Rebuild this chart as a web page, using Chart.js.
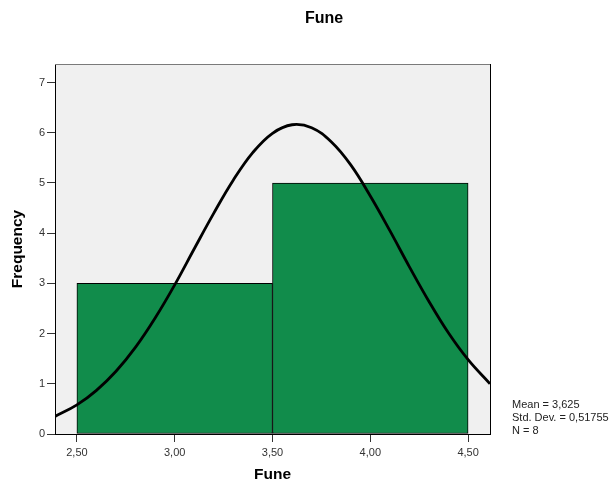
<!DOCTYPE html>
<html>
<head>
<meta charset="utf-8">
<script src="https://cdn.jsdelivr.net/npm/chart.js@4.4.1/dist/chart.umd.min.js"></script>
<style>
  html, body { margin: 0; padding: 0; background: #fff; }
</style>
</head>
<body>
<canvas id="myChart" width="614" height="482"></canvas>
<script>
// histogram bins
const binCenters = [3.0, 4.0];
const binEdges = [2.5, 3.5, 4.5];
const frequencies = [3, 5];

// normal curve
const curveX = [2.388, 2.5, 2.6, 2.7, 2.8, 2.9, 3.0, 3.1, 3.2, 3.3, 3.4, 3.5, 3.6,
  3.7, 3.8, 3.9, 4.0, 4.1, 4.2, 4.3, 4.4, 4.5, 4.612];
const curveY = [0.35, 0.58, 0.87, 1.25, 1.73, 2.31, 2.97, 3.69, 4.40, 5.06, 5.61, 5.99, 6.16,
  6.10, 5.82, 5.36, 4.74, 4.05, 3.33, 2.64, 2.01, 1.48, 1.00];

// axes
const xTicks = [2.5, 3.0, 3.5, 4.0, 4.5];
const yTicks = [0, 1, 2, 3, 4, 5, 6, 7];
const xMin = 2.388, xMax = 4.612, yMax = 7.37;

const chartTitle = "Fune";
const xTitle = "Fune";
const yTitle = "Frequency";
const statsLines = ["Mean = 3,625", "Std. Dev. = 0,51755", "N = 8"];

const FONT = '"Liberation Sans", Arial, sans-serif';

const framePlugin = {
  id: "frame",
  beforeDraw(chart) {
    const { ctx, chartArea: a } = chart;
    ctx.save();
    ctx.fillStyle = "#f0f0f0";
    ctx.fillRect(a.left, a.top, a.right - a.left, a.bottom - a.top);
    ctx.restore();
  },
  afterDraw(chart) {
    const { ctx, chartArea: a } = chart;
    ctx.save();
    ctx.lineWidth = 1;
    ctx.strokeStyle = "#7a7a7a";
    ctx.beginPath();
    ctx.moveTo(a.left, a.top + 0.5);
    ctx.lineTo(a.right, a.top + 0.5);
    ctx.stroke();
    ctx.strokeStyle = "#000";
    ctx.beginPath();
    ctx.moveTo(a.right + 0.5, a.top);
    ctx.lineTo(a.right + 0.5, a.bottom);
    ctx.stroke();

    ctx.fillStyle = "#000";
    ctx.textBaseline = "middle";
    ctx.textAlign = "center";
    ctx.font = "bold 16px " + FONT;
    ctx.fillText(chartTitle, 324, 19);

    ctx.fillStyle = "#222";
    ctx.textAlign = "left";
    ctx.font = "11px " + FONT;
    statsLines.forEach((s, i) => {
      ctx.fillText(s, a.right + 22, a.bottom - 29.5 + i * 13.2);
    });
    ctx.restore();
  },
};

const tickFont = { family: FONT, size: 11 };
const titleFont = { family: FONT, size: 15.5, weight: "bold", lineHeight: 1 };

new Chart(document.getElementById("myChart"), {
  type: "line",
  data: {
    datasets: [
      {
        type: "line",
        xAxisID: "x",
        data: curveX.map((x, i) => ({ x: x, y: curveY[i] })),
        borderColor: "#000",
        borderWidth: 2.8,
        pointRadius: 0,
        tension: 0.4,
        fill: false,
        clip: 0,
        order: 0,
      },
      {
        type: "bar",
        xAxisID: "x2",
        data: binCenters.map((x, i) => ({ x: x, y: frequencies[i] })),
        backgroundColor: "#118c4b",
        borderColor: "#000",
        borderWidth: 1,
        borderSkipped: false,
        grouped: false,
        barPercentage: 1,
        categoryPercentage: 1,
        order: 1,
      },
    ],
  },
  options: {
    responsive: false,
    animation: false,
    layout: { padding: { top: 64, right: 124, left: 0, bottom: 0 } },
    plugins: {
      legend: { display: false },
      tooltip: { enabled: false },
      title: { display: false },
    },
    scales: {
      x: {
        type: "linear",
        position: "bottom",
        min: xMin,
        max: xMax,
        offset: false,
        afterBuildTicks: (s) => {
          s.ticks = xTicks.map((v) => ({ value: v }));
        },
        afterFit: (s) => {
          s.height = 48;
        },
        ticks: {
          callback: (v) => Number(v).toFixed(2).replace(".", ","),
          font: tickFont,
          color: "#333",
          padding: 4,
          maxRotation: 0,
          autoSkip: false,
        },
        grid: {
          offset: false,
          drawOnChartArea: false,
          drawTicks: true,
          tickLength: 8,
          color: "#333",
        },
        border: { display: true, color: "#000", width: 1 },
        title: {
          display: true,
          text: xTitle,
          font: titleFont,
          color: "#000",
          padding: { top: 0, bottom: 0 },
        },
      },
      x2: {
        type: "linear",
        position: "bottom",
        display: false,
        min: xMin,
        max: xMax,
        offset: false,
        afterBuildTicks: (s) => {
          s.ticks = binEdges.map((v) => ({ value: v }));
        },
      },
      y: {
        type: "linear",
        min: 0,
        max: yMax,
        afterBuildTicks: (s) => {
          s.ticks = yTicks.map((v) => ({ value: v }));
        },
        afterFit: (s) => {
          s.width = 55;
        },
        ticks: {
          font: tickFont,
          color: "#333",
          padding: 2,
        },
        grid: {
          drawOnChartArea: false,
          drawTicks: true,
          tickLength: 8,
          color: "#333",
        },
        border: { display: true, color: "#000", width: 1 },
        title: {
          display: true,
          text: yTitle,
          font: titleFont,
          color: "#000",
          padding: { top: 10, bottom: 0 },
        },
      },
    },
  },
  plugins: [framePlugin],
});
</script>
</body>
</html>
